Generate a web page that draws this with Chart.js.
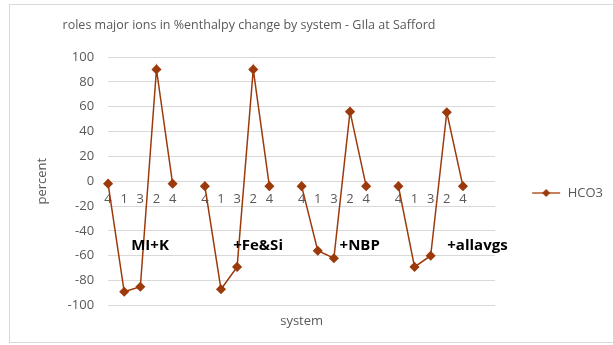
<!DOCTYPE html>
<html>
<head>
<meta charset="utf-8">
<script src="https://cdn.jsdelivr.net/npm/chart.js@4/dist/chart.umd.min.js"></script>
<style>
body { margin: 0; background: #fff; }
#frame { position: absolute; left: 9px; top: 4px; width: 606px; height: 337px; border: 1px solid #d9d9d9; }
#wrap { position: absolute; left: 0; top: 0; width: 613px; height: 345px; }
</style>
</head>
<body>
<div id="frame"></div>
<div id="wrap"><canvas id="canvas" width="613" height="345"></canvas></div>
<script>
// category labels along the zero line (blank slots separate the systems)
var ticks = ['4', '1', '3', '2', '4', '',
             '4', '1', '3', '2', '4', '',
             '4', '1', '3', '2', '4', '',
             '4', '1', '3', '2', '4', '', ''];
var hco3 = [-2, -89, -85, 90, -2, null,
            -4, -87, -69, 90, -4, null,
            -4, -56, -62, 56, -4, null,
            -4, -69, -60, 55.5, -4, null, null];
var systems = ['MI+K', '+Fe&Si', '+NBP', '+allavgs'];

var brown = '#9c3a0c';
var grey = '#595959';
var font = '"Open Sans", sans-serif';

// legend marker: short line with a diamond (blank room on the left)
var marker = document.createElement('canvas');
marker.width = 56;
marker.height = 10;
(function () {
    var c = marker.getContext('2d');
    c.strokeStyle = '#b4572a';
    c.lineWidth = 1.5;
    c.beginPath();
    c.moveTo(27, 5);
    c.lineTo(55, 5);
    c.stroke();
    c.fillStyle = brown;
    c.beginPath();
    c.moveTo(41, 1);
    c.lineTo(45, 5);
    c.lineTo(41, 9);
    c.lineTo(37, 5);
    c.closePath();
    c.fill();
})();

var extras = {
    id: 'extras',
    afterDraw: function (chart) {
        var ctx = chart.ctx;
        var x = chart.scales.x;
        var y = chart.scales.y;
        ctx.save();
        ctx.fillStyle = grey;
        ctx.font = '12.5px ' + font;
        ctx.textAlign = 'center';
        ctx.textBaseline = 'middle';
        ctx.fillText('roles major ions in %enthalpy change by system - GIla at Safford', 249, 25);

        ctx.fillStyle = '#000';
        ctx.font = 'bold 15px ' + font;
        var at = [2.6, 9.3, 15.6, 22.9];
        systems.forEach(function (s, i) {
            ctx.fillText(s, x.getPixelForValue(at[i]), y.getPixelForValue(-52));
        });
        ctx.restore();
    }
};

window.onload = function () {
    var ctx = document.getElementById('canvas').getContext('2d');
    window.myLine = new Chart(ctx, {
        type: 'line',
        data: {
            labels: ticks,
            datasets: [{
                label: 'HCO3',
                data: hco3,
                borderColor: brown,
                backgroundColor: brown,
                borderWidth: 1.5,
                pointStyle: 'rectRot',
                pointRadius: 4,
                pointHoverRadius: 4,
                spanGaps: false,
                fill: false,
                xAxisID: 'x',
            }]
        },
        options: {
            responsive: false,
            animation: false,
            layout: {
                padding: { top: 57, left: 30, right: 0, bottom: 16 }
            },
            plugins: {
                legend: {
                    position: 'right',
                    labels: {
                        usePointStyle: true,
                        pointStyle: marker,
                        pointStyleWidth: 56,
                        color: grey,
                        font: { family: font, size: 13 },
                        generateLabels: function (chart) {
                            return [{
                                text: 'HCO3',
                                pointStyle: marker,
                                fontColor: grey,
                                lineWidth: 0,
                                datasetIndex: 0
                            }];
                        }
                    }
                },
                title: { display: false },
                tooltip: { enabled: false }
            },
            scales: {
                x: {
                    type: 'category',
                    position: { y: 0 },
                    grid: { display: false },
                    border: { display: false },
                    ticks: {
                        autoSkip: false,
                        maxRotation: 0,
                        padding: 2,
                        color: grey,
                        font: { family: font, size: 13 }
                    }
                },
                x2: {
                    type: 'category',
                    position: 'bottom',
                    labels: ticks,
                    grid: { display: false },
                    border: { display: false },
                    ticks: { display: false, padding: 0 },
                    title: {
                        display: true,
                        text: 'system',
                        color: grey,
                        padding: { top: 0, bottom: 0 },
                        font: { family: font, size: 13 }
                    }
                },
                y: {
                    min: -100,
                    max: 100,
                    ticks: {
                        stepSize: 20,
                        color: grey,
                        padding: 14,
                        font: { family: font, size: 13 }
                    },
                    grid: { color: '#d9d9d9', drawTicks: false },
                    border: { display: false },
                    title: {
                        display: true,
                        text: 'percent',
                        color: grey,
                        font: { family: font, size: 13 }
                    }
                }
            }
        },
        plugins: [extras]
    });
};
</script>
</body>
</html>
